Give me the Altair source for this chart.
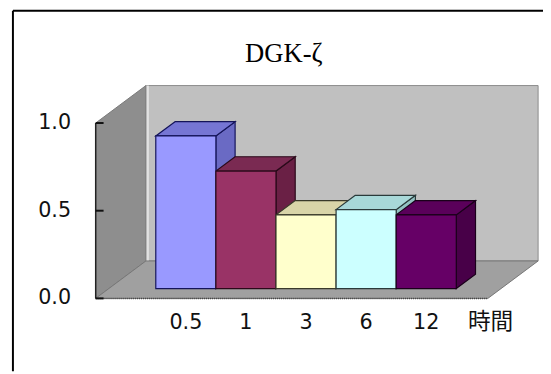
import altair as alt
import pandas as pd

# ---------------- data ----------------
hours = ["0.5", "1", "3", "6", "12"]
values = [0.87, 0.67, 0.42, 0.45, 0.42]
y_ticks = [0.0, 0.5, 1.0]
y_tick_labels = ["0.0", "0.5", "1.0"]
chart_title = "DGK-ζ"
x_unit_label = "時間"

# ---------------- styles ----------------
front_colors = ["#9999FF", "#993366", "#FFFFCC", "#CCFFFF", "#660066"]
top_colors = ["#7676d4", "#7a2a52", "#d9d5a8", "#a8d8d8", "#5a005a"]
side_colors = ["#6a6ac4", "#6a2045", "#c4c196", "#92c2c2", "#480048"]
edge_colors = ["#14145a", "#2a0a1a", "#3a3a2a", "#2a3a3a", "#1a001a"]
BACK_WALL = "#c0c0c0"
LEFT_WALL = "#8e8e8e"
FLOOR = "#a0a0a0"
WALL_EDGE = "#e2e2e2"

# ---------------- layout ----------------
W, H = 538, 366
PX_X, PX_Y = 61.0, 178.0          # pixels per category / per value unit
X_ORIGIN, Y_ORIGIN = 145.0, 292.0  # view pixel of category 0 / value 0
UMIN = -X_ORIGIN / PX_X
UMAX = UMIN + W / PX_X
VMAX = Y_ORIGIN / PX_Y
VMIN = VMAX - H / PX_Y
DXU, DYV = 51 / PX_X, 38 / PX_Y    # full depth of the 3-D box
BDX, BDY = 19.5 / PX_X, 14.5 / PX_Y  # depth of each bar
B0 = 10 / PX_Y                     # lift of the bar plane above the front floor edge
UA, UR = -1.0, 5.525               # left / right edges of floor (front)
TICK = 8 / PX_X
EDGE_W = 3 / PX_X
YLAB_X = -1.41
XLAB_Y = -0.138
TITLE_X, TITLE_Y = 2.13, 1.348

xs = alt.Scale(domain=[UMIN, UMAX], nice=False, zero=False)
ys = alt.Scale(domain=[VMIN, VMAX], nice=False, zero=False)


def X(f="x"):
    return alt.X(f"{f}:Q", scale=xs, axis=None, stack=None)


def Y(f="y"):
    return alt.Y(f"{f}:Q", scale=ys, axis=None, stack=None)


# walls
back_wall = pd.DataFrame([{"x": UA + DXU, "x2": UR + DXU, "y": DYV, "y2": 1 + DYV}])
wall_strip = pd.DataFrame([{"x": UA + DXU, "x2": UA + DXU + EDGE_W, "y": DYV, "y2": 1 + DYV}])
left_wall = pd.DataFrame([
    {"id": "lw", "x": UA, "y": 0.0, "y2": 1.0},
    {"id": "lw", "x": UA + DXU, "y": DYV, "y2": 1 + DYV},
])
floor = pd.DataFrame([
    {"id": "fl", "y": 0.0, "x": UA, "x2": UR},
    {"id": "fl", "y": DYV, "x": UA + DXU, "x2": UR + DXU},
])
floor_front = pd.DataFrame([{"x": UA, "x2": UR, "y": 0.0}])

fronts, tops, sides = [], [], []
for i, v in enumerate(values):
    fronts.append({"x": i, "x2": i + 1, "y": B0, "y2": B0 + v,
                   "fill": front_colors[i], "edge": edge_colors[i]})
    tops.append({"id": i, "y": B0 + v, "x": i, "x2": i + 1,
                 "fill": top_colors[i], "edge": edge_colors[i]})
    tops.append({"id": i, "y": B0 + v + BDY, "x": i + BDX, "x2": i + 1 + BDX,
                 "fill": top_colors[i], "edge": edge_colors[i]})
    sides.append({"id": i, "x": i + 1, "y": B0, "y2": B0 + v,
                  "fill": side_colors[i], "edge": edge_colors[i]})
    sides.append({"id": i, "x": i + 1 + BDX, "y": B0 + BDY, "y2": B0 + v + BDY,
                  "fill": side_colors[i], "edge": edge_colors[i]})
fronts, tops, sides = pd.DataFrame(fronts), pd.DataFrame(tops), pd.DataFrame(sides)

axis_line = pd.DataFrame([{"x": UA, "y": 0.0, "y2": 1.0}])
ticks = pd.DataFrame({"x": [UA] * len(y_ticks), "x2": [UA + TICK] * len(y_ticks), "y": y_ticks})
ylabels = pd.DataFrame({"x": [YLAB_X] * len(y_ticks), "y": y_ticks, "text": y_tick_labels})
xlabels = pd.DataFrame({"x": [i + 0.5 for i in range(len(hours))], "y": [XLAB_Y] * len(hours), "text": hours})
unitlab = pd.DataFrame({"x": [5.57], "y": [XLAB_Y], "text": [x_unit_label]})
titledf = pd.DataFrame({"x": [TITLE_X], "y": [TITLE_Y], "text": [chart_title]})
dummy = pd.DataFrame({"k": [0]})

layers = [
    alt.Chart(back_wall).mark_rect(fill=BACK_WALL, stroke="#8a8a8a", strokeWidth=1)
    .encode(x=X(), x2="x2", y=Y(), y2="y2"),
    alt.Chart(wall_strip).mark_rect(fill=WALL_EDGE)
    .encode(x=X(), x2="x2", y=Y(), y2="y2"),
    alt.Chart(left_wall).mark_area(fill=LEFT_WALL, stroke="#7a7a7a", strokeWidth=1)
    .encode(x=X(), y=Y(), y2="y2", detail="id:N"),
    alt.Chart(floor).mark_area(orient="horizontal", fill=FLOOR, stroke="#777777", strokeWidth=1)
    .encode(y=Y(), x=X(), x2="x2", detail="id:N"),
    alt.Chart(floor_front).mark_rule(color="#444444", strokeWidth=1.5, strokeDash=[1, 1])
    .encode(x=X(), x2="x2", y=Y()),
    alt.Chart(sides).mark_area(strokeWidth=1.2)
    .encode(x=X(), y=Y(), y2="y2", detail="id:N",
            fill=alt.Fill("fill:N", scale=None), stroke=alt.Stroke("edge:N", scale=None)),
    alt.Chart(tops).mark_area(orient="horizontal", strokeWidth=1.2)
    .encode(y=Y(), x=X(), x2="x2", detail="id:N",
            fill=alt.Fill("fill:N", scale=None), stroke=alt.Stroke("edge:N", scale=None)),
    alt.Chart(fronts).mark_rect(strokeWidth=1.2)
    .encode(x=X(), x2="x2", y=Y(), y2="y2",
            fill=alt.Fill("fill:N", scale=None), stroke=alt.Stroke("edge:N", scale=None)),
    alt.Chart(axis_line).mark_rule(color="#222222", strokeWidth=1.5)
    .encode(x=X(), y=Y(), y2="y2"),
    alt.Chart(ticks).mark_rule(color="#111111", strokeWidth=2)
    .encode(x=X(), x2="x2", y=Y()),
    alt.Chart(ylabels).mark_text(align="right", baseline="middle", font="DejaVu Sans", fontSize=21, color="#111111")
    .encode(x=X(), y=Y(), text="text:N"),
    alt.Chart(xlabels).mark_text(align="center", baseline="middle", font="DejaVu Sans", fontSize=21, color="#111111")
    .encode(x=X(), y=Y(), text="text:N"),
    alt.Chart(unitlab).mark_text(align="center", baseline="middle", font="Noto Sans CJK JP", fontSize=23, color="#111111")
    .encode(x=X(), y=Y(), text="text:N"),
    alt.Chart(titledf).mark_text(align="center", baseline="alphabetic", font="Liberation Serif", fontSize=27, color="#000000")
    .encode(x=X(), y=Y(), text="text:N"),
    alt.Chart(dummy).mark_rule(color="#000000", strokeWidth=2)
    .encode(x=alt.value(0), y=alt.value(0), y2=alt.value(H)),
    alt.Chart(dummy).mark_rule(color="#000000", strokeWidth=2)
    .encode(x=alt.value(0), x2=alt.value(W), y=alt.value(0)),
]

chart = alt.layer(*layers).properties(
    width=W, height=H,
    autosize=alt.AutoSizeParams(type="none"),
    padding={"left": 5, "top": 0, "right": 0, "bottom": 0},
    background="white",
).configure_view(stroke=None)

chart.save("out.html", embed_options={"renderer": "svg", "actions": False})
